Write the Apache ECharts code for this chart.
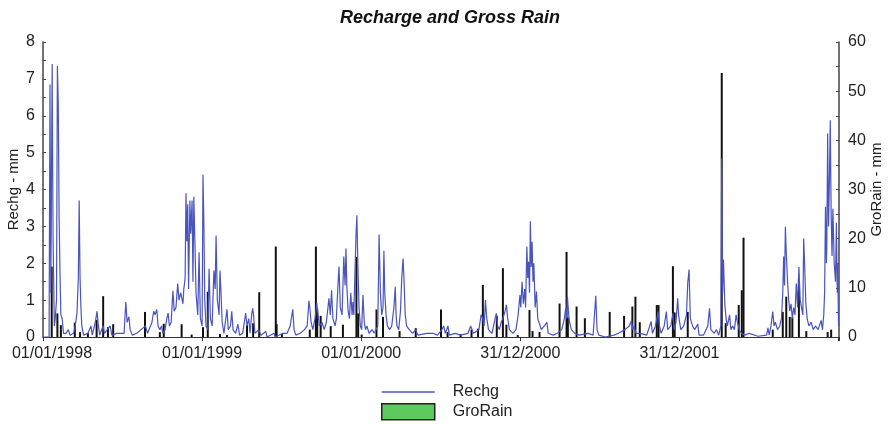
<!DOCTYPE html>
<html>
<head>
<meta charset="utf-8">
<script src="https://cdn.jsdelivr.net/npm/echarts@6/dist/echarts.min.js"></script>
<style>html,body{margin:0;padding:0;background:#fff;}#c{width:888px;height:424px;}</style>
</head>
<body>
<div id="c"></div>
<script>
// x values are day numbers counted from 01/01/1998
var xTickLabels = ["01/01/1998", "01/01/1999", "01/01/2000", "31/12/2000", "31/12/2001"];
var leftTicks = [0, 8, 1];     // min, max, interval  (Rechg - mm)
var rightTicks = [0, 60, 10];  // min, max, interval  (GroRain - mm)

// Recharge (mm) : [day, value]
var rechgData = [
[0,0],[14,0],[16,6.85],[18,1.2],[21,7.4],[23,2.8],[26,0.3],[28,0.5],[31,1.0],[33,7.35],[35,6.35],[37,3.2],[39,1.75],[41,0.6],[44,0.5],[47,0.1],[53,0.1],[58,0.2],[62,0.05],[70,0.1],[74,0.3],[78,0.65],[81,1.6],[83,3.7],[85,1.6],[87,0.8],[89,0.3],[93,0.05],[103,0.1],[110,0.3],[113,0.05],[120,0.4],[124,0.7],[127,0.3],[130,0.05],[138,0.3],[141,0.1],[154,0.3],[158,0.05],[170,0.1],[186,0.1],[190,0.95],[193,0.4],[197,0.55],[200,0.2],[205,0.05],[215,0.1],[225,0.2],[235,0.3],[240,0.1],[250,0.4],[254,0.7],[257,0.6],[261,0.75],[264,0.3],[268,0.2],[272,0.3],[275,0.1],[280,0.2],[284,0.5],[287,0.65],[290,0.3],[294,0.4],[298,1.25],[301,0.7],[305,0.8],[309,1.45],[312,1.0],[316,1.2],[319,1.25],[321,0.9],[323,1.3],[326,1.6],[328,3.9],[330,2.6],[332,3.6],[334,1.3],[337,3.7],[339,2.8],[342,3.7],[344,1.5],[346,3.8],[349,2.3],[351,1.2],[355,0.6],[358,2.3],[361,0.5],[365,0.3],[367,4.4],[369,3.1],[371,1.0],[374,0.3],[378,0.2],[381,1.85],[384,0.5],[388,0.3],[392,1.8],[395,1.3],[397,2.75],[400,1.0],[404,0.6],[406,1.8],[408,1.3],[411,0.4],[415,0.1],[422,0.75],[425,0.2],[430,0.3],[433,0.7],[436,0.2],[442,0.1],[447,0.35],[451,0.05],[458,0.1],[465,0.65],[468,0.3],[472,0.5],[475,0.1],[479,0.64],[481,0.78],[483,0.6],[486,0.1],[495,0.2],[500,0.05],[511,0.15],[514,0.0],[530,0.1],[533,0.0],[550,0.1],[560,0.1],[567,0.3],[573,0.75],[576,0.2],[580,0.05],[590,0.1],[600,0.2],[606,0.3],[610,0.98],[612,0.8],[615,0.4],[619,0.2],[624,0.5],[628,0.92],[631,0.6],[634,0.3],[640,0.4],[645,0.2],[650,0.4],[656,1.05],[659,0.6],[662,1.27],[665,0.5],[670,0.3],[673,0.5],[676,1.27],[679,1.91],[682,0.8],[686,0.6],[690,2.18],[693,1.4],[695,2.4],[697,1.4],[700,0.7],[703,0.5],[706,1.2],[709,0.6],[711,0.95],[713,0.6],[715,1.5],[718,2.76],[720,3.3],[722,2.1],[725,0.8],[728,0.3],[731,0.2],[734,1.14],[737,0.4],[740,0.2],[743,0.3],[748,0.1],[755,0.2],[760,0.1],[768,0.3],[771,2.78],[774,1.2],[777,0.6],[780,0.8],[782,2.34],[784,1.2],[787,0.6],[790,0.3],[795,0.2],[800,0.3],[805,0.8],[808,1.36],[810,0.6],[812,0.3],[816,0.2],[820,0.7],[823,1.6],[826,2.13],[828,1.6],[831,0.6],[834,0.3],[840,0.2],[848,0.1],[855,0.2],[860,0.05],[880,0.1],[894,0.1],[905,0.05],[915,0.2],[919,0.3],[923,0.1],[929,0.3],[932,0.05],[945,0.1],[958,0.05],[975,0.1],[981,0.3],[984,0.33],[987,0.1],[1000,0.2],[1005,0.6],[1009,0.5],[1012,0.3],[1015,1.0],[1018,0.5],[1022,0.2],[1030,0.1],[1037,0.5],[1040,0.64],[1043,0.3],[1047,0.2],[1051,0.4],[1055,0.5],[1060,0.7],[1063,0.87],[1066,0.5],[1070,0.2],[1078,0.1],[1085,0.2],[1090,0.6],[1094,1.14],[1096,0.8],[1099,1.5],[1102,0.9],[1105,1.3],[1107,0.8],[1110,2.45],[1112,1.6],[1114,2.04],[1116,1.2],[1118,3.14],[1120,1.9],[1122,2.58],[1124,1.5],[1126,2.0],[1129,0.8],[1132,1.23],[1135,0.5],[1139,0.45],[1143,0.2],[1150,0.3],[1156,0.4],[1159,0.1],[1170,0.05],[1180,0.1],[1190,0.2],[1196,0.5],[1199,0.78],[1201,0.5],[1203,1.1],[1206,0.6],[1208,0.4],[1212,0.2],[1220,0.1],[1230,0.05],[1250,0.1],[1262,0.05],[1268,1.12],[1271,0.2],[1275,0.05],[1290,0.0],[1310,0.05],[1320,0.1],[1335,0.2],[1345,0.3],[1350,0.45],[1353,0.2],[1356,0.3],[1360,0.1],[1370,0.1],[1385,0.05],[1395,0.42],[1398,0.1],[1405,0.3],[1411,0.69],[1414,0.3],[1418,0.1],[1425,0.3],[1430,0.69],[1433,0.2],[1440,0.3],[1445,0.64],[1448,0.2],[1452,0.4],[1456,1.05],[1458,0.6],[1460,0.6],[1463,0.2],[1470,0.3],[1476,0.6],[1479,1.45],[1482,1.83],[1485,0.5],[1490,0.3],[1495,0.2],[1502,0.35],[1505,0.05],[1515,0.05],[1525,0.3],[1529,0.78],[1532,0.2],[1540,0.1],[1545,0.2],[1550,0.05],[1555,0.3],[1557,4.84],[1559,1.2],[1561,2.1],[1564,0.9],[1567,0.5],[1570,0.3],[1575,0.6],[1578,0.2],[1582,0.3],[1586,0.2],[1590,0.6],[1593,0.4],[1597,0.2],[1602,0.1],[1610,0.05],[1620,0.1],[1640,0.02],[1660,0.05],[1663,0.25],[1666,0.05],[1670,0.3],[1674,0.69],[1677,0.3],[1680,0.4],[1685,0.2],[1690,0.3],[1694,0.5],[1697,1.2],[1699,2.18],[1701,1.4],[1703,2.99],[1705,2.3],[1708,1.5],[1710,1.1],[1713,0.7],[1716,0.9],[1719,0.5],[1722,0.8],[1725,0.6],[1728,1.45],[1731,0.8],[1734,1.9],[1737,1.0],[1741,1.0],[1743,0.6],[1745,2.67],[1747,2.0],[1750,0.9],[1753,0.5],[1757,0.3],[1762,0.4],[1767,0.2],[1772,0.3],[1778,0.2],[1785,0.45],[1788,0.2],[1791,0.6],[1793,1.2],[1795,3.53],[1797,2.0],[1798,2.45],[1800,5.52],[1802,3.0],[1804,4.2],[1806,5.88],[1808,3.35],[1810,2.2],[1812,3.48],[1815,2.0],[1818,1.5],[1820,3.1],[1822,1.2],[1823,2.0],[1825,0.3]
];

// Gross rain (mm) : [day, value]
var groRainData = [
[20,14.3],[33,4.8],[41,2.4],[73,2.9],[85,1],[103,0.8],[123,3.5],[138,8.3],[149,2],[161,2.6],[234,5.1],[268,1],[277,2.7],[318,2.6],[341,0.5],[367,2],[378,9.2],[406,0.6],[422,0.4],[468,2.4],[482,2.8],[496,9.1],[534,18.4],[536,2.6],[548,0.6],[612,1.5],[626,18.4],[629,5.8],[637,4.3],[660,2.2],[688,2.5],[719,16.3],[723,4.8],[731,0.5],[765,5.6],[780,4.1],[818,1.2],[855,1.8],[913,5.6],[928,1],[958,0.6],[983,1.5],[998,1.7],[1009,10.6],[1041,4.3],[1055,14],[1063,2.5],[1089,0.4],[1116,5.5],[1123,1.2],[1139,1],[1185,6.8],[1201,17.3],[1204,4],[1224,6.2],[1243,3.8],[1300,5.1],[1333,4.3],[1352,6.2],[1359,8.2],[1369,3],[1408,6.5],[1412,6.5],[1445,14.4],[1449,5],[1479,5.1],[1557,53.7],[1566,2.8],[1596,6.5],[1603,9.5],[1607,20.2],[1674,1.5],[1697,5.1],[1705,8.2],[1713,4.1],[1719,4],[1734,11.7],[1751,1.2],[1800,1],[1808,1.5]
];

var FONT = "'Liberation Sans', Arial, Helvetica, sans-serif";
var chart = echarts.init(document.getElementById('c'), null, {renderer: 'canvas'});
chart.setOption({
  backgroundColor: '#fff',
  animation: false,
  title: {
    text: 'Recharge and Gross Rain',
    left: 335,
    top: 4,
    textStyle: {fontFamily: FONT, fontSize: 18, fontWeight: 'bold', fontStyle: 'italic', color: '#111'}
  },
  legend: {
    orient: 'vertical',
    left: 381,
    top: 384,
    height: 50,
    itemWidth: 53,
    itemHeight: 16,
    itemGap: 3,
    padding: 0,
    symbolKeepAspect: true,
    textStyle: {fontFamily: FONT, fontSize: 16, lineHeight: 16, color: '#222', padding: [0, 0, 0, 13]},
    data: [
      {name: 'Rechg', icon: 'path://M0,0H53V1.3H0Z', itemStyle: {color: '#4a54bf'}},
      {name: 'GroRain', icon: 'rect', itemStyle: {color: '#5ec95e', borderColor: '#222', borderWidth: 1.5}}
    ]
  },
  grid: {left: 43, right: 49, top: 42, bottom: 87, containLabel: false, outerBoundsMode: 'none'},
  xAxis: {
    type: 'value',
    min: 0,
    max: 1826,
    interval: 365,
    axisLine: {show: true, lineStyle: {color: '#333', width: 1}},
    axisTick: {show: true, length: 4, lineStyle: {color: '#333'}},
    splitLine: {show: false},
    axisLabel: {
      margin: 9,
      fontFamily: FONT, fontSize: 16, color: '#222',
      formatter: function (v, i) {
        var idx = Math.round(v / 365);
        var t = xTickLabels[idx] || '';
        if (idx === 0) return '{a|' + t + '}';
        return t;
      },
      rich: {a: {fontFamily: FONT, fontSize: 16, color: '#222', padding: [0, 0, 0, 18]}}
    }
  },
  yAxis: [
    {
      type: 'value',
      min: leftTicks[0], max: leftTicks[1], interval: leftTicks[2],
      name: 'Rechg - mm',
      nameLocation: 'middle',
      nameGap: 22,
      nameMoveOverlap: false,
      nameRotate: 90,
      nameTextStyle: {fontFamily: FONT, fontSize: 15, color: '#222'},
      position: 'left',
      axisLine: {show: true, lineStyle: {color: '#444', width: 1.5}},
      axisTick: {show: true, inside: true, length: 3, lineStyle: {color: '#444'}},
      minorTick: {show: true, splitNumber: 2, length: 3, lineStyle: {color: '#444'}},
      splitLine: {show: false},
      axisLabel: {margin: 8, fontFamily: FONT, fontSize: 16, color: '#222'}
    },
    {
      type: 'value',
      min: rightTicks[0], max: rightTicks[1], interval: rightTicks[2],
      name: 'GroRain - mm',
      nameLocation: 'middle',
      nameGap: 30,
      nameMoveOverlap: false,
      nameRotate: 90,
      nameTextStyle: {fontFamily: FONT, fontSize: 15, color: '#222'},
      position: 'right',
      axisLine: {show: true, lineStyle: {color: '#444', width: 1.5}},
      axisTick: {show: true, inside: true, length: 3, lineStyle: {color: '#444'}},
      minorTick: {show: true, splitNumber: 2, length: 3, lineStyle: {color: '#444'}},
      splitLine: {show: false},
      axisLabel: {margin: 9, fontFamily: FONT, fontSize: 16, color: '#222'}
    }
  ],
  series: [
    {
      name: 'GroRain',
      type: 'bar',
      yAxisIndex: 1,
      barWidth: 2,
      itemStyle: {color: '#111'},
      data: groRainData,
      z: 2
    },
    {
      name: 'Rechg',
      type: 'line',
      yAxisIndex: 0,
      symbol: 'none',
      lineStyle: {color: '#4a54bf', width: 1.2},
      itemStyle: {color: '#4a54bf'},
      data: rechgData,
      z: 3
    }
  ]
});
</script>
</body>
</html>
